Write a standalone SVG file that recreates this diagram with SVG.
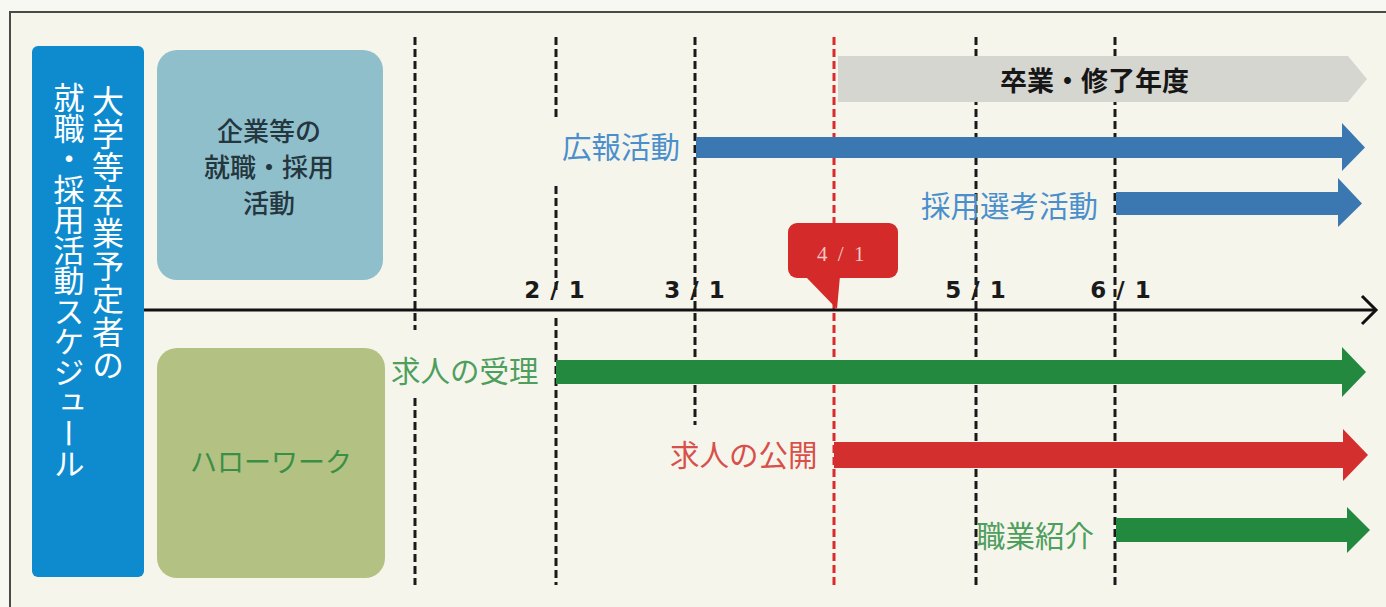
<svg xmlns="http://www.w3.org/2000/svg" width="1386" height="607" viewBox="0 0 1386 607">
<style>
.jp{font-family:"Noto Sans CJK JP","Noto Sans CJK SC",sans-serif}
.dash{stroke:#1a1a1a;stroke-width:3;stroke-dasharray:8 4;fill:none}
.rdash{stroke:#d92b2b;stroke-width:3;stroke-dasharray:8 4;fill:none}
.lbl{font-family:"Noto Sans CJK JP","Noto Sans CJK SC",sans-serif;font-size:29.5px;font-weight:400}
.date{font-family:"DejaVu Sans","Liberation Sans",sans-serif;font-size:23px;font-weight:bold;fill:#1a1a1a;text-anchor:middle;letter-spacing:1px}
</style>
<rect x="0" y="0" width="1386" height="607" fill="#f8f8f2"/>
<rect x="10" y="12" width="1400" height="620" fill="#f6f5ec" stroke="#4a4a46" stroke-width="2"/>

<g id="connectors">
  <g id="date-lines">
    <path class="dash" d="M415 37V330M415 398V585"/>
    <path class="dash" d="M556 37V120M556 186V290M556 318V585"/>
    <path class="dash" d="M695 37V425"/>
    <path class="dash" d="M976 37V585"/>
    <path class="dash" d="M1115 37V585"/>
    <path class="rdash" d="M834 37V585"/>
  </g>
  <g id="axis">
    <line x1="144" y1="310" x2="1375" y2="310" stroke="#111" stroke-width="3"/>
    <polyline points="1362,296 1376,310 1362,324" fill="none" stroke="#111" stroke-width="3"/>
  </g>
</g>

<g id="schedule-label">
  <rect x="32" y="46" width="112" height="531" rx="6" fill="#0e8bcf"/>
  <text class="jp" x="108" y="85" font-size="32" letter-spacing="1" fill="#ffffff" style="writing-mode:vertical-rl">大学等卒業予定者の</text>
  <text class="jp" x="69" y="82" font-size="31" letter-spacing="-0.5" fill="#ffffff" style="writing-mode:vertical-rl">就職・採用活動スケジュール</text>
</g>

<g id="company">
  <rect x="157" y="50" width="226" height="230" rx="20" fill="#90bfcc"/>
  <text class="jp" x="269" y="141" font-size="26" font-weight="500" fill="#24363e" text-anchor="middle">企業等の</text>
  <text class="jp" x="269" y="177" font-size="26" font-weight="500" fill="#24363e" text-anchor="middle">就職・採用</text>
  <text class="jp" x="269" y="213" font-size="26" font-weight="500" fill="#24363e" text-anchor="middle">活動</text>
</g>

<g id="hellowork">
  <rect x="157" y="348" width="228" height="230" rx="20" fill="#b3c183"/>
  <text class="jp" x="271" y="472" font-size="27" fill="#3a8f46" text-anchor="middle">ハローワーク</text>
</g>

<g id="graduation-year">
  <path d="M838 56H1348L1367 79L1348 102H838Z" fill="#d6d6d1"/>
  <text class="jp" x="1000" y="91" font-size="27" font-weight="bold" fill="#161616">卒業・修了年度</text>
</g>

<g id="pr-activity">
  <path d="M696 137H1342V123L1365 147.5L1342 171V158H696Z" fill="#3b78b1"/>
  <text class="lbl" x="562" y="158" fill="#4a8fcb">広報活動</text>
</g>

<g id="selection-activity">
  <path d="M1116 192H1338V178L1362 203.5L1338 227V215H1116Z" fill="#3b78b1"/>
  <text class="lbl" x="921" y="217" fill="#4a8fcb">採用選考活動</text>
</g>

<g id="job-receipt">
  <path d="M556 360H1342V347L1366 372L1342 397V384H556Z" fill="#22893f"/>
  <text class="lbl" x="391" y="382" fill="#4e9e5e">求人の受理</text>
</g>

<g id="job-publish">
  <path d="M834 442H1343V429L1368 455L1343 481V468H834Z" fill="#d42f2f"/>
  <text class="lbl" x="670" y="466" fill="#d8504a">求人の公開</text>
</g>

<g id="placement">
  <path d="M1116 518H1347V507L1370 530L1347 553V542H1116Z" fill="#22893f"/>
  <text class="lbl" x="976" y="547" fill="#4e9e5e">職業紹介</text>
</g>

<g id="callout-april">
  <rect x="788" y="223" width="110" height="55" rx="9" fill="#d42a2a"/>
  <polygon points="805,276 840,276 837,309" fill="#d42a2a"/>
  <text x="842" y="261" font-family="Liberation Serif,serif" font-size="21" letter-spacing="2.5" fill="#f3c9c4" text-anchor="middle">4 / 1</text>
</g>

<g id="date-labels">
  <text class="date" x="555" y="298">2 / 1</text>
  <text class="date" x="695" y="298">3 / 1</text>
  <text class="date" x="976" y="298">5 / 1</text>
  <text class="date" x="1121" y="298">6 / 1</text>
</g>
</svg>
